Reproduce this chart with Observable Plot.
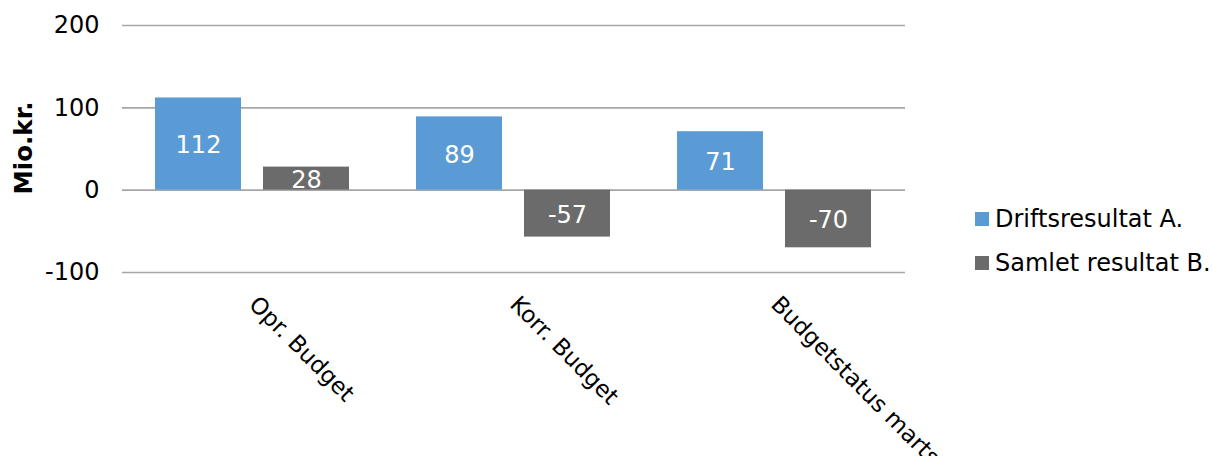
<!DOCTYPE html>
<html>
<head>
<meta charset="utf-8">
<script src="https://cdn.jsdelivr.net/npm/d3@7"></script>
<script src="https://cdn.jsdelivr.net/npm/@observablehq/plot@0.6"></script>
<style>
  html, body { margin: 0; padding: 0; background: #fff; }
  body { width: 1212px; height: 456px; position: relative; overflow: hidden; font-family: "DejaVu Sans", Verdana, sans-serif; }
  #ylabel { position: absolute; left: 23px; top: 148px; transform: translate(-50%, -50%) rotate(-90deg); font-weight: bold; font-size: 24.5px; white-space: nowrap; }
  #legend { position: absolute; left: 975px; top: 197px; font-size: 24px; }
  .item { display: flex; align-items: center; height: 44px; white-space: nowrap; }
  .sw { width: 14px; height: 14px; margin-right: 6px; }
</style>
</head>
<body>
<div id="chart"></div>
<div id="ylabel">Mio.kr.</div>
<div id="legend"></div>
<script>
const categories = ["Opr. Budget", "Korr. Budget", "Budgetstatus marts"];
const series = ["Driftsresultat A.", "Samlet resultat B."];
const driftsresultat = [112, 89, 71];
const samletResultat = [28, -57, -70];
const yTicks = [-100, 0, 100, 200];
const colors = ["#5b9bd5", "#6b6b6b"];

const rows = [];
categories.forEach((c, i) => {
  rows.push({cat: c, series: series[0], value: driftsresultat[i]});
  rows.push({cat: c, series: series[1], value: samletResultat[i]});
});

const font = "DejaVu Sans, Verdana, sans-serif";
const chart = Plot.plot({
  width: 1212,
  height: 456,
  marginLeft: 122,
  marginRight: 307,
  marginTop: 25,
  marginBottom: 184,
  style: {fontFamily: font, fontSize: "24px", color: "#000", background: "#fff", overflow: "visible"},
  fx: {domain: categories, paddingInner: 0, paddingOuter: 0, label: null},
  x: {domain: series, paddingInner: 0.2, paddingOuter: 0.3, axis: null},
  y: {domain: [-100, 200], axis: null},
  color: {domain: series, range: colors},
  marks: [
    Plot.ruleY(yTicks, {stroke: "#a6a6a6", strokeWidth: 1.6}),
    Plot.barY(rows, {fx: "cat", x: "series", y: "value", fill: "series"}),
    Plot.text(rows, {fx: "cat", x: "series", y: d => d.value / 2, dy: 1.5, text: d => String(d.value), fill: "white", fontSize: 24}),
    Plot.axisY({ticks: yTicks, tickFormat: d => String(d), tickSize: 0, tickPadding: 23, fontSize: 24, label: null, anchor: "left"}),
    Plot.axisFx({anchor: "bottom", tickRotate: 45, tickSize: 0, tickPadding: 28, fontSize: 23, label: null, textAnchor: "start"})
  ]
});
document.getElementById("chart").appendChild(chart);

const legend = document.getElementById("legend");
series.forEach((s, i) => {
  const item = document.createElement("div");
  item.className = "item";
  const sw = document.createElement("div");
  sw.className = "sw";
  sw.style.background = colors[i];
  const t = document.createElement("span");
  t.textContent = s;
  item.appendChild(sw);
  item.appendChild(t);
  legend.appendChild(item);
});
</script>
</body>
</html>
